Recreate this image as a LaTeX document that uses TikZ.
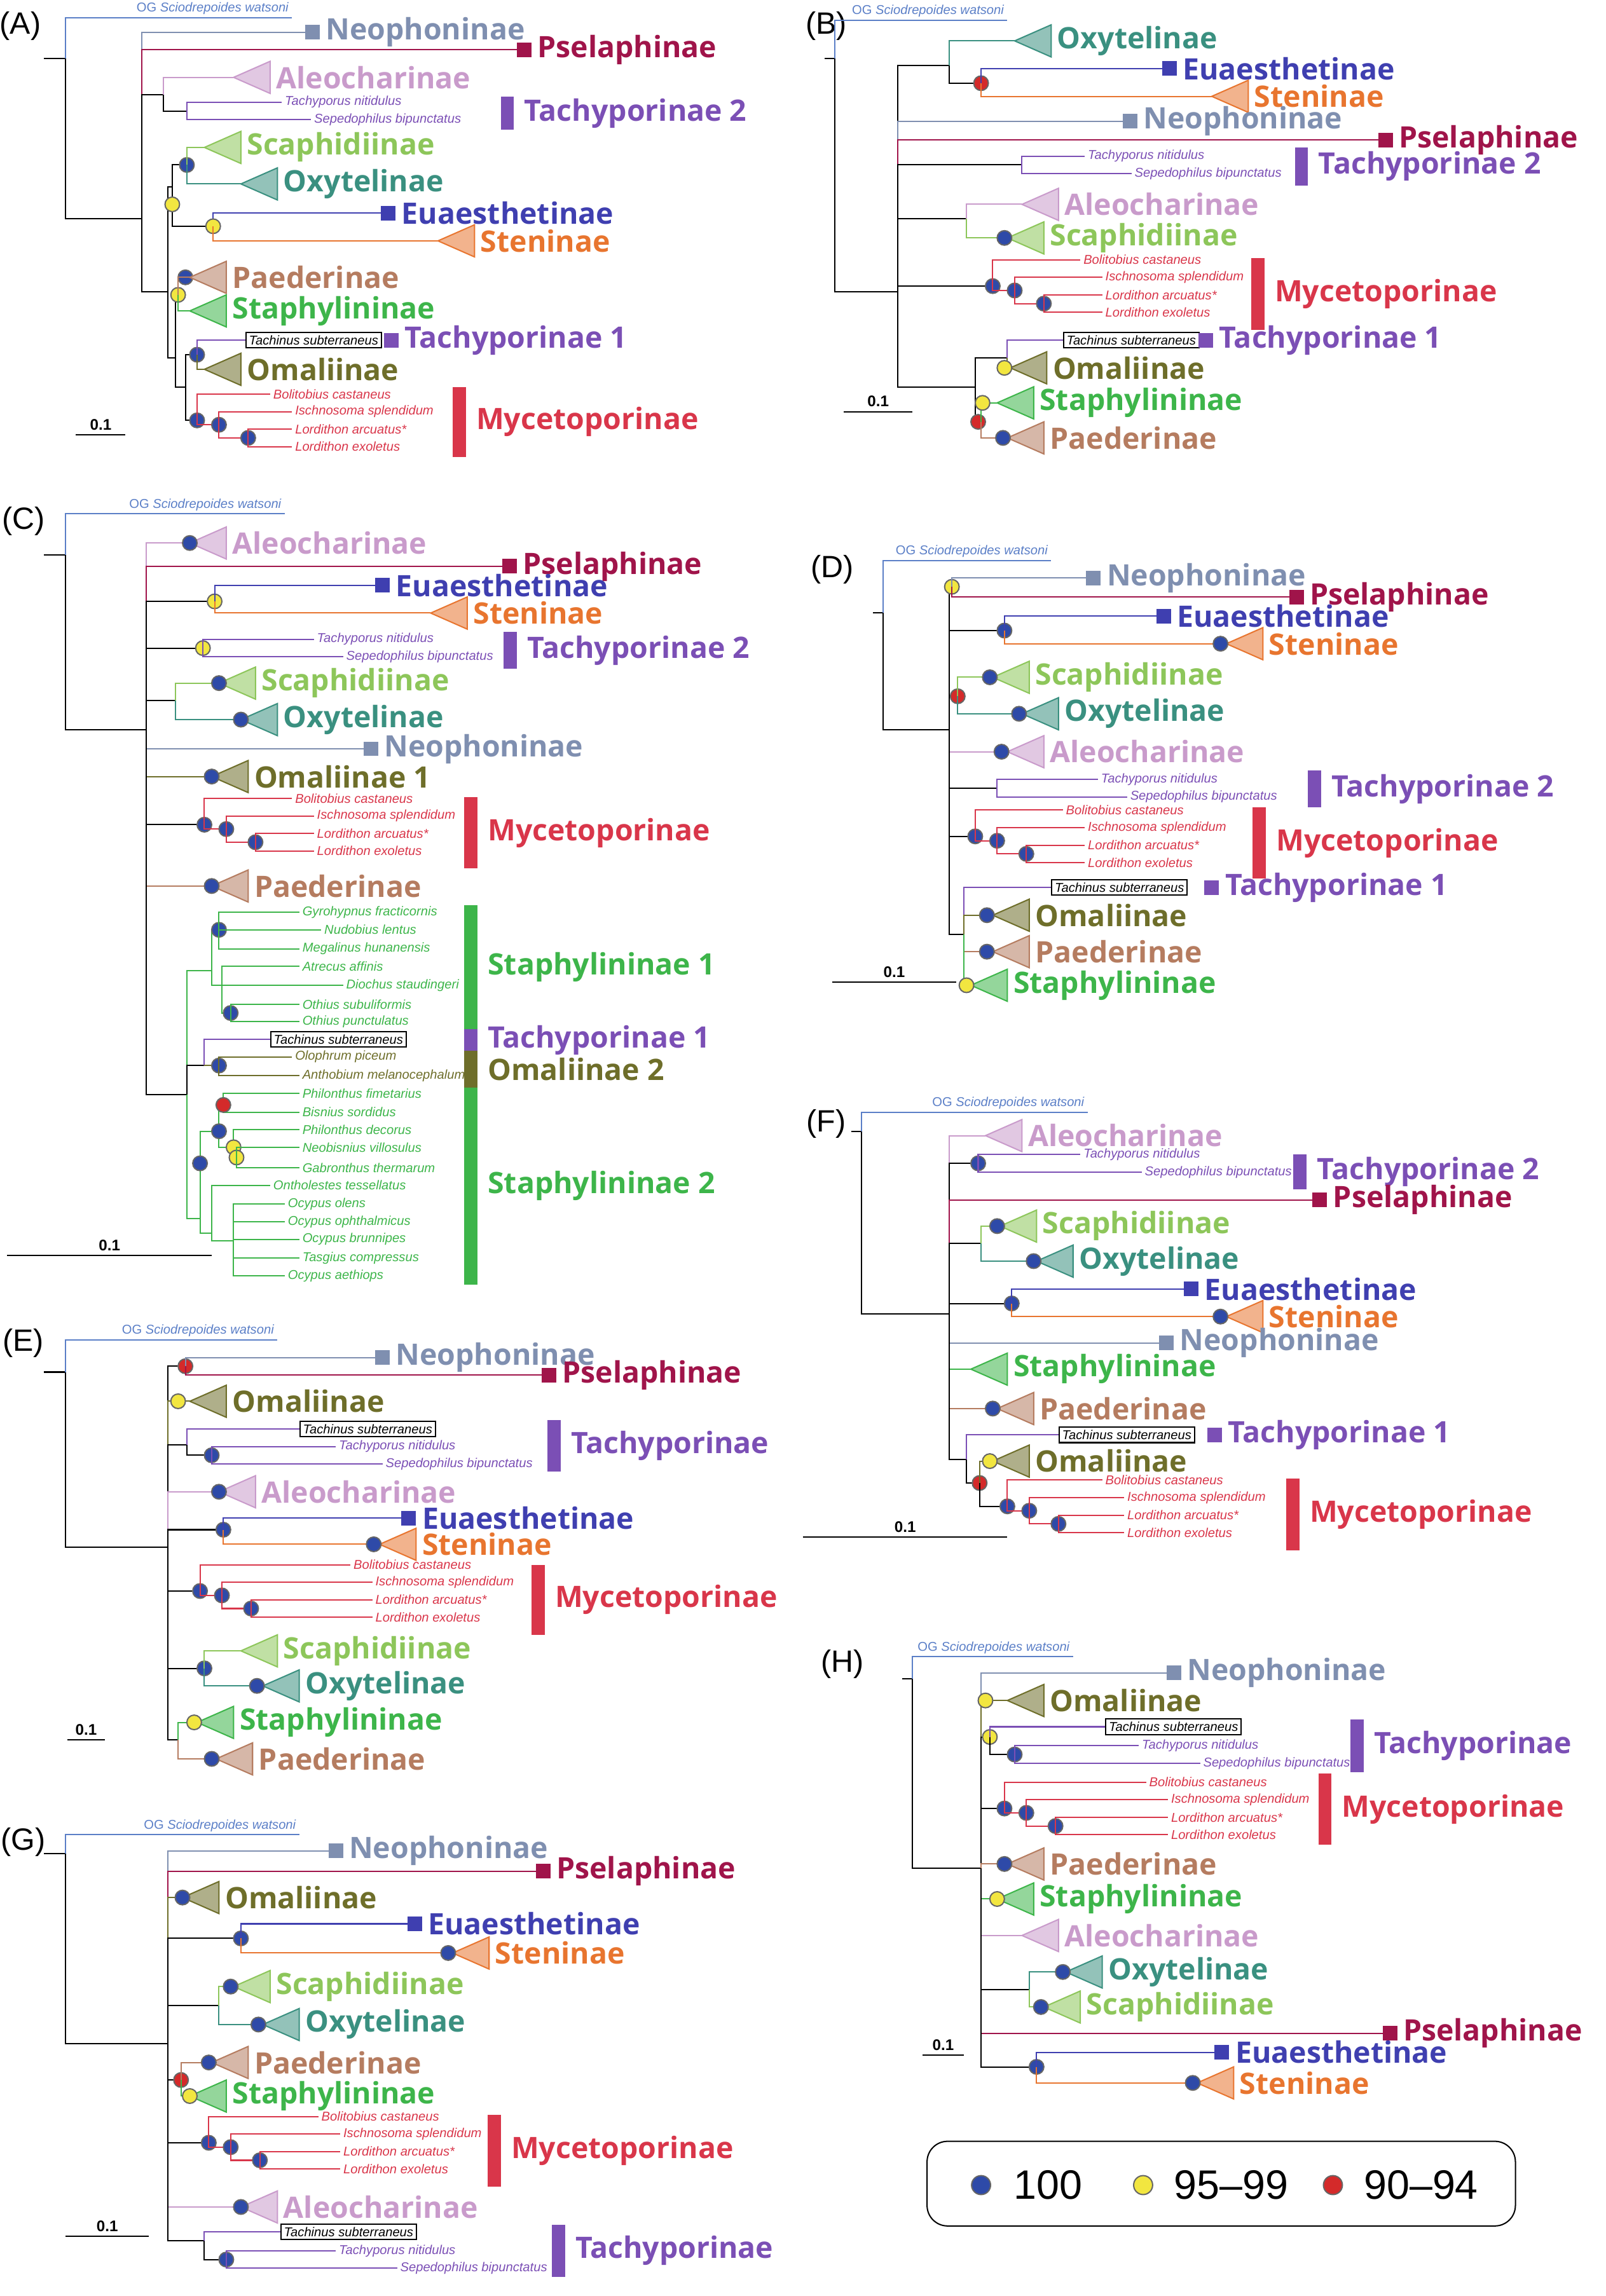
\documentclass[tikz,border=0pt]{standalone}
\usepackage{fontspec}
\setmainfont{Liberation Sans}
\newfontfamily\labf{Open Sans}
\definecolor{og}{HTML}{5B7FC7}\definecolor{neo}{HTML}{7F8FB0}
\definecolor{psel}{HTML}{A0144A}\definecolor{aleo}{HTML}{C99BCB}
\definecolor{tach}{HTML}{7B4FB5}\definecolor{scaph}{HTML}{8DC65A}
\definecolor{oxy}{HTML}{3A9080}\definecolor{euae}{HTML}{3F3FB0}
\definecolor{sten}{HTML}{E8752F}\definecolor{paed}{HTML}{B57C60}
\definecolor{staph}{HTML}{3DB54A}\definecolor{omal}{HTML}{6E6E2A}
\definecolor{myc}{HTML}{D9364A}\definecolor{dblue}{HTML}{2E4AA8}
\definecolor{dyel}{HTML}{F2E640}\definecolor{dred}{HTML}{D42A2A}
\tikzset{lab/.style={font=\labf\bfseries\fontsize{11.5}{12}\selectfont,anchor=west,inner sep=1pt},
  sp/.style={font=\itshape\fontsize{5}{5.5}\selectfont,anchor=west,inner sep=1pt},
  pan/.style={font=\fontsize{12}{12}\selectfont},
  sc/.style={font=\fontsize{6}{6}\selectfont\bfseries}}
% tree pieces
\newcommand\twig[5]{\draw[#5] (#1,#2) |- (#3,#4);}
\newcommand\tri[4]{\draw[draw=#3,fill=#3!55] (#1,#2) -- ++(25,-11) -- ++(0,22) -- cycle;
  \node[lab,text=#3] at ({#1+27},#2) {#4};}
\newcommand\sqr[4]{\fill[#3] ({#1-1},{#2-5}) rectangle ({#1+9},{#2+5});
  \node[lab,text=#3] at ({#1+11},#2) {#4};}
\newcommand\tx[4]{\node[sp,text=#3] at (#1,#2) {#4};}
\newcommand\tbox[2]{\node[sp,draw,inner sep=1.2pt] at (#1,#2) {Tachinus subterraneus};}
\newcommand\cbar[5]{\fill[#4] ({#1},#2) rectangle ({#1+9},#3);
  \node[lab,text=#4] at ({#1+14},{(#2+#3)/2}) {#5};}
\newcommand\dB[2]{\filldraw[draw=black!60,fill=dblue] (#1,#2) circle[radius=1mm];}
\newcommand\dY[2]{\filldraw[draw=black!60,fill=dyel] (#1,#2) circle[radius=1mm];}
\newcommand\dR[2]{\filldraw[draw=black!60,fill=dred] (#1,#2) circle[radius=1mm];}
\newcommand\myco[3]{%
  \twig{#1}{#2}{#3}{#2-18}{myc}\tx{#3}{#2-18}{myc}{Bolitobius castaneus}
  \twig{#1}{#2}{#1+15}{#2+3}{myc}\dB{#1+15}{#2+3}
  \twig{#1+15}{#2+3}{#3+15}{#2-6}{myc}\tx{#3+15}{#2-6}{myc}{Ischnosoma splendidum}
  \twig{#1+15}{#2+3}{#1+35}{#2+12}{myc}\dB{#1+35}{#2+12}
  \twig{#1+35}{#2+12}{#3+15}{#2+6}{myc}\tx{#3+15}{#2+6}{myc}{Lordithon arcuatus*}
  \twig{#1+35}{#2+12}{#3+15}{#2+18}{myc}\tx{#3+15}{#2+18}{myc}{Lordithon exoletus}}
\newcommand\tachy[4]{%
  \twig{#1}{#2}{#3}{#2-6}{tach}\tx{#3}{#2-6}{tach}{Tachyporus nitidulus}
  \twig{#1}{#2}{#4}{#2+6}{tach}\tx{#4}{#2+6}{tach}{Sepedophilus bipunctatus}}
\newcommand\ogt[4]{\twig{#1}{#2}{#3}{#4}{og}
  \node[sp,text=og,anchor=south east,font=\fontsize{5}{5.5}\selectfont] at (#3,#4) {OG \textit{Sciodrepoides watsoni}};}
\newcommand\scb[3]{\draw (#1,#3) -- (#2,#3); \node[sc] at ({(#1+#2)/2},{#3-7}) {0.1};}
\begin{document}
\begin{tikzpicture}[x=0.02cm,y=-0.02cm,line width=0.5pt]
\useasboundingbox (0,0) rectangle (1100,1573);
% (A)
\node[pan] at (14,18) {(A)};
\draw (30,40) -- (45,40);
\ogt{45}{40}{200}{12}\twig{45}{40}{97}{150}{}
\twig{97}{150}{210}{22}{neo}\sqr{210}{22}{neo}{Neophoninae}
\twig{97}{150}{355}{34}{psel}\sqr{355}{34}{psel}{Pselaphinae}
\twig{97}{150}{112}{65}{}\twig{112}{65}{160}{53}{aleo}\tri{160}{53}{aleo}{Aleocharinae}
\twig{112}{65}{128}{76}{}\tachy{128}{76}{193}{213}\cbar{343}{66}{89}{tach}{Tachyporinae 2}
\twig{97}{150}{115}{200}{}\twig{115}{200}{118}{128}{}\twig{115}{200}{120}{245}{}
\twig{118}{128}{128}{113}{}\twig{118}{128}{146}{155}{}\dB{128}{113}\dY{118}{140}
\twig{128}{113}{140}{101}{scaph}\tri{140}{101}{scaph}{Scaphidiinae}
\twig{128}{113}{165}{126}{oxy}\tri{165}{126}{oxy}{Oxytelinae}
\twig{146}{155}{262}{146}{euae}\sqr{262}{146}{euae}{Euaesthetinae}\dY{146}{155}
\twig{146}{155}{300}{165}{sten}\tri{300}{165}{sten}{Steninae}
\twig{120}{245}{122}{202}{}\dY{122}{202}\dB{127}{190}
\twig{122}{202}{130}{190}{paed}\tri{130}{190}{paed}{Paederinae}
\twig{122}{202}{130}{213}{staph}\tri{130}{213}{staph}{Staphylininae}
\twig{120}{245}{127}{265}{}\twig{127}{265}{135}{243}{}\dB{135}{243}
\twig{135}{243}{168}{233}{tach}\tbox{168}{233}\sqr{264}{233}{tach}{Tachyporinae 1}
\twig{135}{243}{140}{253}{omal}\tri{140}{253}{omal}{Omaliinae}
\twig{127}{265}{135}{288}{}\dB{135}{288}\myco{135}{288}{185}
\cbar{310}{265}{313}{myc}{Mycetoporinae}
\scb{52}{86}{298}
% (B)
\node[pan] at (566,18) {(B)};
\draw (565,40) -- (572,40);
\ogt{572}{40}{690}{14}\twig{572}{40}{615}{200}{}
\twig{615}{200}{650}{45}{}\twig{650}{45}{695}{28}{oxy}\tri{695}{28}{oxy}{Oxytelinae}
\twig{650}{45}{672}{57}{}\dR{672}{57}
\twig{672}{57}{797}{47}{euae}\sqr{797}{47}{euae}{Euaesthetinae}
\twig{672}{57}{830}{66}{sten}\tri{830}{66}{sten}{Steninae}
\twig{615}{200}{770}{83}{neo}\sqr{770}{83}{neo}{Neophoninae}
\twig{615}{200}{945}{96}{psel}\sqr{945}{96}{psel}{Pselaphinae}
\twig{615}{200}{700}{113}{}\tachy{700}{113}{743}{775}\cbar{887}{101}{127}{tach}{Tachyporinae 2}
\twig{615}{200}{662}{150}{}\twig{662}{150}{700}{140}{aleo}\tri{700}{140}{aleo}{Aleocharinae}
\twig{662}{150}{690}{163}{scaph}\tri{690}{163}{scaph}{Scaphidiinae}\dB{688}{163}
\twig{615}{200}{680}{196}{}\dB{680}{196}\myco{680}{196}{740}\cbar{857}{177}{226}{myc}{Mycetoporinae}
\twig{615}{200}{668}{265}{}\twig{668}{265}{690}{245}{}
\twig{690}{245}{728}{233}{tach}\tbox{728}{233}\sqr{822}{233}{tach}{Tachyporinae 1}
\twig{690}{245}{692}{252}{omal}\tri{692}{252}{omal}{Omaliinae}\dY{688}{252}
\twig{668}{265}{672}{289}{}\dR{670}{289}
\twig{672}{289}{683}{276}{staph}\tri{683}{276}{staph}{Staphylininae}\dY{673}{276}
\twig{672}{289}{690}{300}{paed}\tri{690}{300}{paed}{Paederinae}\dB{687}{300}
\scb{578}{625}{282}
% (C)
\node[pan] at (16,357) {(C)};
\draw (30,380) -- (45,380);
\ogt{45}{380}{195}{352}\twig{45}{380}{100}{500}{}
\twig{100}{500}{130}{372}{aleo}\tri{130}{372}{aleo}{Aleocharinae}\dB{130}{372}
\twig{100}{500}{345}{388}{psel}\sqr{345}{388}{psel}{Pselaphinae}
\twig{100}{500}{147}{412}{}\dY{147}{412}
\twig{147}{412}{258}{401}{euae}\sqr{258}{401}{euae}{Euaesthetinae}
\twig{147}{412}{295}{420}{sten}\tri{295}{420}{sten}{Steninae}
\twig{100}{500}{139}{444}{}\dY{139}{444}\tachy{139}{444}{215}{235}\cbar{345}{433}{458}{tach}{Tachyporinae 2}
\twig{100}{500}{120}{480}{}\twig{120}{480}{150}{468}{scaph}\tri{150}{468}{scaph}{Scaphidiinae}\dB{150}{468}
\twig{120}{480}{165}{493}{oxy}\tri{165}{493}{oxy}{Oxytelinae}\dB{165}{493}
\twig{100}{500}{250}{513}{neo}\sqr{250}{513}{neo}{Neophoninae}
\twig{100}{500}{145}{532}{omal}\tri{145}{532}{omal}{Omaliinae 1}\dB{145}{532}
\twig{100}{500}{140}{565}{}\dB{140}{565}\myco{140}{565}{200}\cbar{318}{546}{595}{myc}{Mycetoporinae}
\twig{100}{500}{145}{607}{paed}\tri{145}{607}{paed}{Paederinae}\dB{145}{607}
\twig{100}{500}{128}{750}{}
\twig{128}{750}{145}{665}{staph}\twig{128}{750}{140}{730}{}\twig{128}{750}{137}{835}{staph}
\twig{145}{665}{150}{637}{staph}\twig{145}{665}{152}{675}{staph}\dB{150}{637}
\twig{150}{637}{205}{625}{staph}\tx{205}{625}{staph}{Gyrohypnus fracticornis}
\twig{150}{637}{220}{637}{staph}\tx{220}{637}{staph}{Nudobius lentus}
\twig{150}{637}{205}{650}{staph}\tx{205}{650}{staph}{Megalinus hunanensis}
\twig{152}{675}{205}{662}{staph}\tx{205}{662}{staph}{Atrecus affinis}
\twig{152}{675}{235}{675}{staph}\tx{235}{675}{staph}{Diochus staudingeri}
\twig{152}{675}{158}{694}{staph}\dB{158}{694}
\twig{158}{694}{205}{688}{staph}\tx{205}{688}{staph}{Othius subuliformis}
\twig{158}{694}{205}{700}{staph}\tx{205}{700}{staph}{Othius punctulatus}
\twig{140}{730}{185}{712}{tach}\tbox{185}{712}
\twig{140}{730}{150}{730}{omal}\dB{150}{730}
\twig{150}{730}{200}{724}{omal}\tx{200}{724}{omal}{Olophrum piceum}
\twig{150}{730}{205}{737}{omal}\tx{205}{737}{omal}{Anthobium melanocephalum}
\twig{137}{835}{150}{775}{staph}\twig{137}{835}{145}{845}{staph}\dB{137}{797}
\twig{150}{775}{153}{757}{staph}\twig{150}{775}{160}{786}{staph}\dB{150}{775}
\twig{153}{757}{205}{749}{staph}\tx{205}{749}{staph}{Philonthus fimetarius}
\twig{153}{757}{205}{762}{staph}\tx{205}{762}{staph}{Bisnius sordidus}\dR{153}{757}
\twig{160}{786}{205}{774}{staph}\tx{205}{774}{staph}{Philonthus decorus}
\twig{160}{786}{162}{793}{staph}\dY{160}{786}\dY{162}{793}
\twig{162}{793}{205}{786}{staph}\tx{205}{786}{staph}{Neobisnius villosulus}
\twig{162}{793}{205}{800}{staph}\tx{205}{800}{staph}{Gabronthus thermarum}
\twig{145}{845}{185}{812}{staph}\tx{185}{812}{staph}{Ontholestes tessellatus}
\twig{145}{845}{160}{850}{staph}
\twig{160}{850}{195}{825}{staph}\tx{195}{825}{staph}{Ocypus olens}
\twig{160}{850}{195}{837}{staph}\tx{195}{837}{staph}{Ocypus ophthalmicus}
\twig{160}{850}{205}{849}{staph}\tx{205}{849}{staph}{Ocypus brunnipes}
\twig{160}{850}{205}{862}{staph}\tx{205}{862}{staph}{Tasgius compressus}
\twig{160}{850}{195}{874}{staph}\tx{195}{874}{staph}{Ocypus aethiops}
\cbar{318}{620}{705}{staph}{Staphylininae 1}
\cbar{318}{705}{720}{tach}{Tachyporinae 1}
\cbar{318}{720}{745}{omal}{Omaliinae 2}
\cbar{318}{745}{880}{staph}{Staphylininae 2}
\scb{5}{145}{860}
% (D)
\node[pan] at (570,390) {(D)};
\draw (598,420) -- (605,420);
\ogt{605}{420}{720}{384}\twig{605}{420}{650}{500}{}
\twig{650}{500}{652}{402}{}\dY{652}{402}
\twig{652}{402}{745}{396}{neo}\sqr{745}{396}{neo}{Neophoninae}
\twig{652}{402}{884}{409}{psel}\sqr{884}{409}{psel}{Pselaphinae}
\twig{650}{500}{688}{432}{}\dB{688}{432}
\twig{688}{432}{793}{422}{euae}\sqr{793}{422}{euae}{Euaesthetinae}
\twig{688}{432}{840}{441}{sten}\tri{840}{441}{sten}{Steninae}\dB{836}{441}
\twig{650}{500}{656}{477}{}\dR{656}{477}
\twig{656}{477}{680}{464}{scaph}\tri{680}{464}{scaph}{Scaphidiinae}\dB{678}{464}
\twig{656}{477}{700}{489}{oxy}\tri{700}{489}{oxy}{Oxytelinae}\dB{698}{489}
\twig{650}{500}{690}{515}{aleo}\tri{690}{515}{aleo}{Aleocharinae}\dB{686}{515}
\twig{650}{500}{683}{540}{}\tachy{683}{540}{752}{772}\cbar{896}{528}{553}{tach}{Tachyporinae 2}
\twig{650}{500}{668}{573}{}\dB{668}{573}\myco{668}{573}{728}\cbar{858}{553}{602}{myc}{Mycetoporinae}
\twig{650}{500}{660}{640}{}
\twig{660}{640}{720}{608}{tach}\tbox{720}{608}\sqr{826}{608}{tach}{Tachyporinae 1}
\twig{660}{640}{680}{627}{omal}\tri{680}{627}{omal}{Omaliinae}\dB{676}{627}
\twig{660}{640}{680}{652}{paed}\tri{680}{652}{paed}{Paederinae}\dB{676}{652}
\twig{660}{640}{665}{675}{staph}\tri{665}{675}{staph}{Staphylininae}\dY{662}{675}
\scb{570}{655}{673}
% (E)
\node[pan] at (16,920) {(E)};
\draw (30,940) -- (45,940);
\ogt{45}{940}{190}{918}\twig{45}{940}{115}{1060}{}
\twig{115}{1060}{127}{936}{}\dR{127}{936}
\twig{127}{936}{258}{930}{neo}\sqr{258}{930}{neo}{Neophoninae}
\twig{127}{936}{372}{942}{psel}\sqr{372}{942}{psel}{Pselaphinae}
\twig{115}{1060}{130}{960}{omal}\tri{130}{960}{omal}{Omaliinae}\dY{122}{960}
\twig{115}{1060}{128}{990}{}\twig{128}{990}{205}{979}{tach}\tbox{205}{979}
\twig{128}{990}{145}{997}{}\dB{145}{997}\tachy{145}{997}{230}{262}
\cbar{375}{973}{1008}{tach}{Tachyporinae}
\twig{115}{1060}{150}{1022}{aleo}\tri{150}{1022}{aleo}{Aleocharinae}\dB{150}{1022}
\twig{115}{1060}{153}{1048}{}\dB{153}{1048}
\twig{153}{1048}{276}{1040}{euae}\sqr{276}{1040}{euae}{Euaesthetinae}
\twig{153}{1048}{260}{1058}{sten}\tri{260}{1058}{sten}{Steninae}\dB{256}{1058}
\twig{115}{1060}{137}{1090}{}\dB{137}{1090}\myco{137}{1090}{240}\cbar{364}{1072}{1120}{myc}{Mycetoporinae}
\twig{115}{1060}{140}{1143}{}\dB{140}{1143}
\twig{140}{1143}{165}{1131}{scaph}\tri{165}{1131}{scaph}{Scaphidiinae}
\twig{140}{1143}{180}{1155}{oxy}\tri{180}{1155}{oxy}{Oxytelinae}\dB{176}{1155}
\twig{115}{1060}{122}{1192}{}
\twig{122}{1192}{135}{1180}{staph}\tri{135}{1180}{staph}{Staphylininae}\dY{133}{1180}
\twig{122}{1192}{148}{1205}{paed}\tri{148}{1205}{paed}{Paederinae}\dB{145}{1205}
\scb{46}{72}{1192}
% (F)
\node[pan] at (566,770) {(F)};
\draw (583,775) -- (590,775);
\ogt{590}{775}{745}{762}\twig{590}{775}{650}{900}{}
\twig{650}{900}{675}{778}{aleo}\tri{675}{778}{aleo}{Aleocharinae}
\twig{650}{900}{670}{797}{}\dB{670}{797}\tachy{670}{797}{740}{782}\cbar{886}{791}{815}{tach}{Tachyporinae 2}
\twig{650}{900}{900}{822}{psel}\sqr{900}{822}{psel}{Pselaphinae}
\twig{650}{900}{672}{852}{}
\twig{672}{852}{685}{840}{scaph}\tri{685}{840}{scaph}{Scaphidiinae}\dB{683}{840}
\twig{672}{852}{710}{864}{oxy}\tri{710}{864}{oxy}{Oxytelinae}\dB{708}{864}
\twig{650}{900}{693}{893}{}\dB{693}{893}
\twig{693}{893}{812}{883}{euae}\sqr{812}{883}{euae}{Euaesthetinae}
\twig{693}{893}{840}{902}{sten}\tri{840}{902}{sten}{Steninae}\dB{836}{902}
\twig{650}{900}{795}{920}{neo}\sqr{795}{920}{neo}{Neophoninae}
\twig{650}{900}{665}{938}{staph}\tri{665}{938}{staph}{Staphylininae}
\twig{650}{900}{683}{965}{paed}\tri{683}{965}{paed}{Paederinae}\dB{680}{965}
\twig{650}{900}{662}{1000}{}
\twig{662}{1000}{725}{983}{tach}\tbox{725}{983}\sqr{828}{983}{tach}{Tachyporinae 1}
\twig{662}{1000}{671}{1016}{}\dR{671}{1016}
\twig{671}{1016}{680}{1001}{omal}\tri{680}{1001}{omal}{Omaliinae}\dY{678}{1001}
\twig{671}{1016}{690}{1032}{}\dB{690}{1032}\myco{690}{1032}{755}\cbar{881}{1013}{1062}{myc}{Mycetoporinae}
\scb{550}{690}{1053}
% (G)
\node[pan] at (16,1262) {(G)};
\draw (30,1270) -- (45,1270);
\ogt{45}{1270}{205}{1257}\twig{45}{1270}{115}{1400}{}
\twig{115}{1400}{226}{1268}{neo}\sqr{226}{1268}{neo}{Neophoninae}
\twig{115}{1400}{368}{1282}{psel}\sqr{368}{1282}{psel}{Pselaphinae}
\twig{115}{1400}{125}{1300}{omal}\tri{125}{1300}{omal}{Omaliinae}\dB{125}{1300}
\twig{115}{1400}{165}{1328}{}\dB{165}{1328}
\twig{165}{1328}{280}{1318}{euae}\sqr{280}{1318}{euae}{Euaesthetinae}
\twig{165}{1328}{310}{1338}{sten}\tri{310}{1338}{sten}{Steninae}\dB{307}{1338}
\twig{115}{1400}{150}{1374}{}
\twig{150}{1374}{160}{1361}{scaph}\tri{160}{1361}{scaph}{Scaphidiinae}\dB{158}{1361}
\twig{150}{1374}{180}{1387}{oxy}\tri{180}{1387}{oxy}{Oxytelinae}\dB{177}{1387}
\twig{115}{1400}{124}{1425}{}\dR{124}{1425}
\twig{124}{1425}{145}{1413}{paed}\tri{145}{1413}{paed}{Paederinae}\dB{143}{1413}
\twig{124}{1425}{130}{1436}{staph}\tri{130}{1436}{staph}{Staphylininae}\dY{130}{1436}
\twig{115}{1400}{143}{1468}{}\dB{143}{1468}\myco{143}{1468}{218}\cbar{334}{1449}{1498}{myc}{Mycetoporinae}
\twig{115}{1400}{165}{1512}{aleo}\tri{165}{1512}{aleo}{Aleocharinae}\dB{165}{1512}
\twig{115}{1400}{140}{1535}{}\twig{140}{1535}{192}{1529}{tach}\tbox{192}{1529}
\twig{140}{1535}{155}{1548}{}\dB{155}{1548}\tachy{155}{1548}{230}{272}
\cbar{378}{1524}{1560}{tach}{Tachyporinae}
\scb{45}{102}{1532}
% (H)
\node[pan] at (577,1140) {(H)};
\draw (618,1150) -- (625,1150);
\ogt{625}{1150}{735}{1135}\twig{625}{1150}{672}{1280}{}
\twig{672}{1280}{800}{1146}{neo}\sqr{800}{1146}{neo}{Neophoninae}
\twig{672}{1280}{690}{1165}{omal}\tri{690}{1165}{omal}{Omaliinae}\dY{675}{1165}
\twig{672}{1280}{678}{1190}{}\dY{678}{1190}\twig{678}{1190}{757}{1183}{tach}\tbox{757}{1183}
\twig{678}{1190}{695}{1202}{}\dB{695}{1202}\tachy{695}{1202}{780}{822}
\cbar{925}{1178}{1214}{tach}{Tachyporinae}
\twig{672}{1280}{688}{1239}{}\dB{688}{1239}\myco{688}{1239}{785}\cbar{903}{1215}{1264}{myc}{Mycetoporinae}
\twig{672}{1280}{690}{1277}{paed}\tri{690}{1277}{paed}{Paederinae}\dB{688}{1277}
\twig{672}{1280}{683}{1301}{staph}\tri{683}{1301}{staph}{Staphylininae}\dY{683}{1301}
\twig{672}{1280}{700}{1326}{aleo}\tri{700}{1326}{aleo}{Aleocharinae}
\twig{672}{1280}{705}{1363}{}
\twig{705}{1363}{730}{1351}{oxy}\tri{730}{1351}{oxy}{Oxytelinae}\dB{728}{1351}
\twig{705}{1363}{715}{1375}{scaph}\tri{715}{1375}{scaph}{Scaphidiinae}\dB{713}{1375}
\twig{672}{1280}{948}{1393}{psel}\sqr{948}{1393}{psel}{Pselaphinae}
\twig{672}{1280}{710}{1416}{}\dB{710}{1416}
\twig{710}{1416}{833}{1406}{euae}\sqr{833}{1406}{euae}{Euaesthetinae}
\twig{710}{1416}{820}{1427}{sten}\tri{820}{1427}{sten}{Steninae}\dB{817}{1427}
\scb{632}{660}{1408}
% legend
\draw[rounded corners=8pt] (635,1467) rectangle (1038,1525);
\filldraw[draw=black!60,fill=dblue] (672,1497) circle[radius=1.3mm];
\node[font=\fontsize{16}{16}\selectfont,anchor=west] at (688,1497) {100};
\filldraw[draw=black!60,fill=dyel] (783,1497) circle[radius=1.3mm];
\node[font=\fontsize{16}{16}\selectfont,anchor=west] at (798,1497) {95--99};
\filldraw[draw=black!60,fill=dred] (913,1497) circle[radius=1.3mm];
\node[font=\fontsize{16}{16}\selectfont,anchor=west] at (928,1497) {90--94};
\end{tikzpicture}
\end{document}
